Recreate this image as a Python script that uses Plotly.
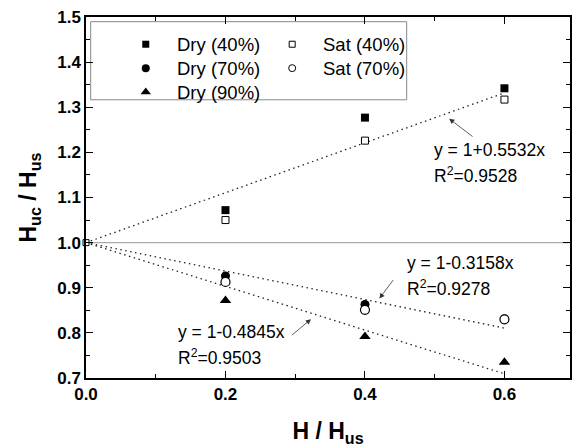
import plotly.graph_objects as go

# ---------------- data ----------------
x_vals = [0.2, 0.4, 0.6]
dry_40 = [1.072, 1.277, 1.342]
dry_70 = [0.926, 0.863, 0.831]
dry_90 = [0.872, 0.792, 0.735]
sat_40 = [1.050, 1.226, 1.317]
sat_70 = [0.913, 0.851, 0.830]
origin_x = [0.0]
origin_y = [1.0]

fit_slopes = [0.5532, -0.3158, -0.4845]
fit_r2 = [0.9528, 0.9278, 0.9503]
fit_x = [0.0, 0.6]
baseline = 1.0

x_ticks = [0.0, 0.2, 0.4, 0.6]
x_ticklabels = ["0.0", "0.2", "0.4", "0.6"]
y_ticks = [0.7, 0.8, 0.9, 1.0, 1.1, 1.2, 1.3, 1.4, 1.5]
y_ticklabels = ["0.7", "0.8", "0.9", "1.0", "1.1", "1.2", "1.3", "1.4", "1.5"]

FONT = "Liberation Sans, Arial, sans-serif"

fig = go.Figure()

# fit lines
for s in fit_slopes:
    fig.add_trace(go.Scatter(
        x=fit_x, y=[1 + s * xx for xx in fit_x], mode="lines",
        line=dict(color="#222222", width=1.3, dash="1.5px,3.5px"),
        showlegend=False, hoverinfo="skip"))

def add_pts(xs, ys, symbol, size, fill, lw=0, clip=True):
    fig.add_trace(go.Scatter(
        x=xs, y=ys, mode="markers", cliponaxis=clip,
        marker=dict(symbol=symbol, size=size, color=fill,
                    line=dict(color="black", width=lw)),
        showlegend=False))

add_pts(x_vals, dry_40, "square", 8, "black")
add_pts(x_vals, dry_70, "circle", 9, "black")
add_pts(x_vals, dry_90, "triangle-up", 10, "black")
add_pts(x_vals, sat_40, "square", 7, "white", 1)
add_pts(x_vals, sat_70, "circle", 9, "white", 1.2)
add_pts(origin_x, origin_y, "square", 6, "white", 1, clip=False)

# ---------------- manual legend (overlay axis 0..1) ----------------
leg_col_x = [0.1235, 0.426]
leg_text_x = [0.1831, 0.485]
leg_row_y = [0.9246, 0.8583, 0.7920]
legend_items = [
    (0, 0, "square", 7, "black", 0, "Dry (40%)"),
    (0, 1, "circle", 8, "black", 0, "Dry (70%)"),
    (0, 2, "triangle-up", 9, "black", 0, "Dry (90%)"),
    (1, 0, "square", 6, "white", 1, "Sat (40%)"),
    (1, 1, "circle", 7, "white", 1, "Sat (70%)"),
]
for col, row, sym, sz, fc, lw, label in legend_items:
    fig.add_trace(go.Scatter(
        x=[leg_col_x[col]], y=[leg_row_y[row]], mode="markers",
        xaxis="x2", yaxis="y2", cliponaxis=False,
        marker=dict(symbol=sym, size=sz, color=fc, line=dict(color="black", width=lw)),
        showlegend=False, hoverinfo="skip"))
    fig.add_annotation(x=leg_text_x[col], y=leg_row_y[row], xref="x2", yref="y2",
                       text=label, showarrow=False, xanchor="left", yanchor="middle",
                       font=dict(family=FONT, size=18.5, color="black"))

fig.add_shape(type="rect", xref="x2", yref="y2", x0=0.0097, x1=0.6626, y0=0.7707, y1=0.987,
              line=dict(color="#888888", width=1), fillcolor="rgba(0,0,0,0)", layer="below")

# baseline
fig.add_shape(type="line", xref="paper", yref="y", x0=0, x1=1, y0=baseline, y1=baseline,
              line=dict(color="#aaaaaa", width=1.2), layer="below")

# ---------------- equation annotations ----------------
eq_text_pos = [(0.4964, 1.206, 1.1508), (0.4581, 0.9557, 0.9004), (0.1293, 0.8010, 0.7471)]
arrow_tail = [(0.5564, 1.2326), (0.4421, 0.9203), (0.2931, 0.7922)]
arrow_head = [(0.5207, 1.2746), (0.4207, 0.8761), (0.3226, 0.8304)]
for s, r2, (tx, ty1, ty2), (ax_, ay_), (hx, hy) in zip(fit_slopes, fit_r2, eq_text_pos, arrow_tail, arrow_head):
    sign = "+" if s >= 0 else "-"
    fig.add_annotation(x=tx, y=ty1, text=f"y = 1{sign}{abs(s):.4f}x", showarrow=False,
                       xanchor="left", yanchor="middle",
                       font=dict(family=FONT, size=17.5, color="black"))
    fig.add_annotation(x=tx, y=ty2, text=f"R<sup>2</sup>={r2:.4f}", showarrow=False,
                       xanchor="left", yanchor="middle",
                       font=dict(family=FONT, size=17.5, color="black"))
    fig.add_annotation(x=hx, y=hy, ax=ax_, ay=ay_, axref="x", ayref="y", text="",
                       showarrow=True, arrowhead=2, arrowsize=1.3, arrowwidth=0.8,
                       arrowcolor="#333333", standoff=0, startstandoff=0)

axis_common = dict(showline=True, linecolor="black", linewidth=1.5, mirror="ticks",
                   ticks="inside", ticklen=7, tickwidth=1.2, tickcolor="black",
                   showgrid=False, zeroline=False,
                   tickfont=dict(family=FONT, size=17, color="black", weight="bold"))

fig.update_layout(
    width=579, height=447,
    margin=dict(l=86, r=7, t=17, b=68),
    paper_bgcolor="white", plot_bgcolor="white",
    showlegend=False,
    xaxis=dict(range=[0, 0.694], tickvals=x_ticks, ticktext=x_ticklabels,
               minor=dict(ticks="inside", ticklen=4, tickcolor="black", dtick=0.1, tick0=0),
               title=dict(text="H / H<sub>us</sub>", standoff=20,
                          font=dict(family=FONT, size=23, color="black", weight="bold")),
               **axis_common),
    yaxis=dict(range=[0.7, 1.5], tickvals=y_ticks, ticktext=y_ticklabels,
               minor=dict(ticks="inside", ticklen=4, tickcolor="black", dtick=0.05, tick0=0.7),
               title=dict(text="H<sub>uc</sub> / H<sub>us</sub>", standoff=14,
                          font=dict(family=FONT, size=23, color="black", weight="bold")),
               **axis_common),
    xaxis2=dict(range=[0, 1], overlaying="x", visible=False, domain=[0, 1]),
    yaxis2=dict(range=[0, 1], overlaying="y", visible=False),
)

fig.write_html("out.html")
